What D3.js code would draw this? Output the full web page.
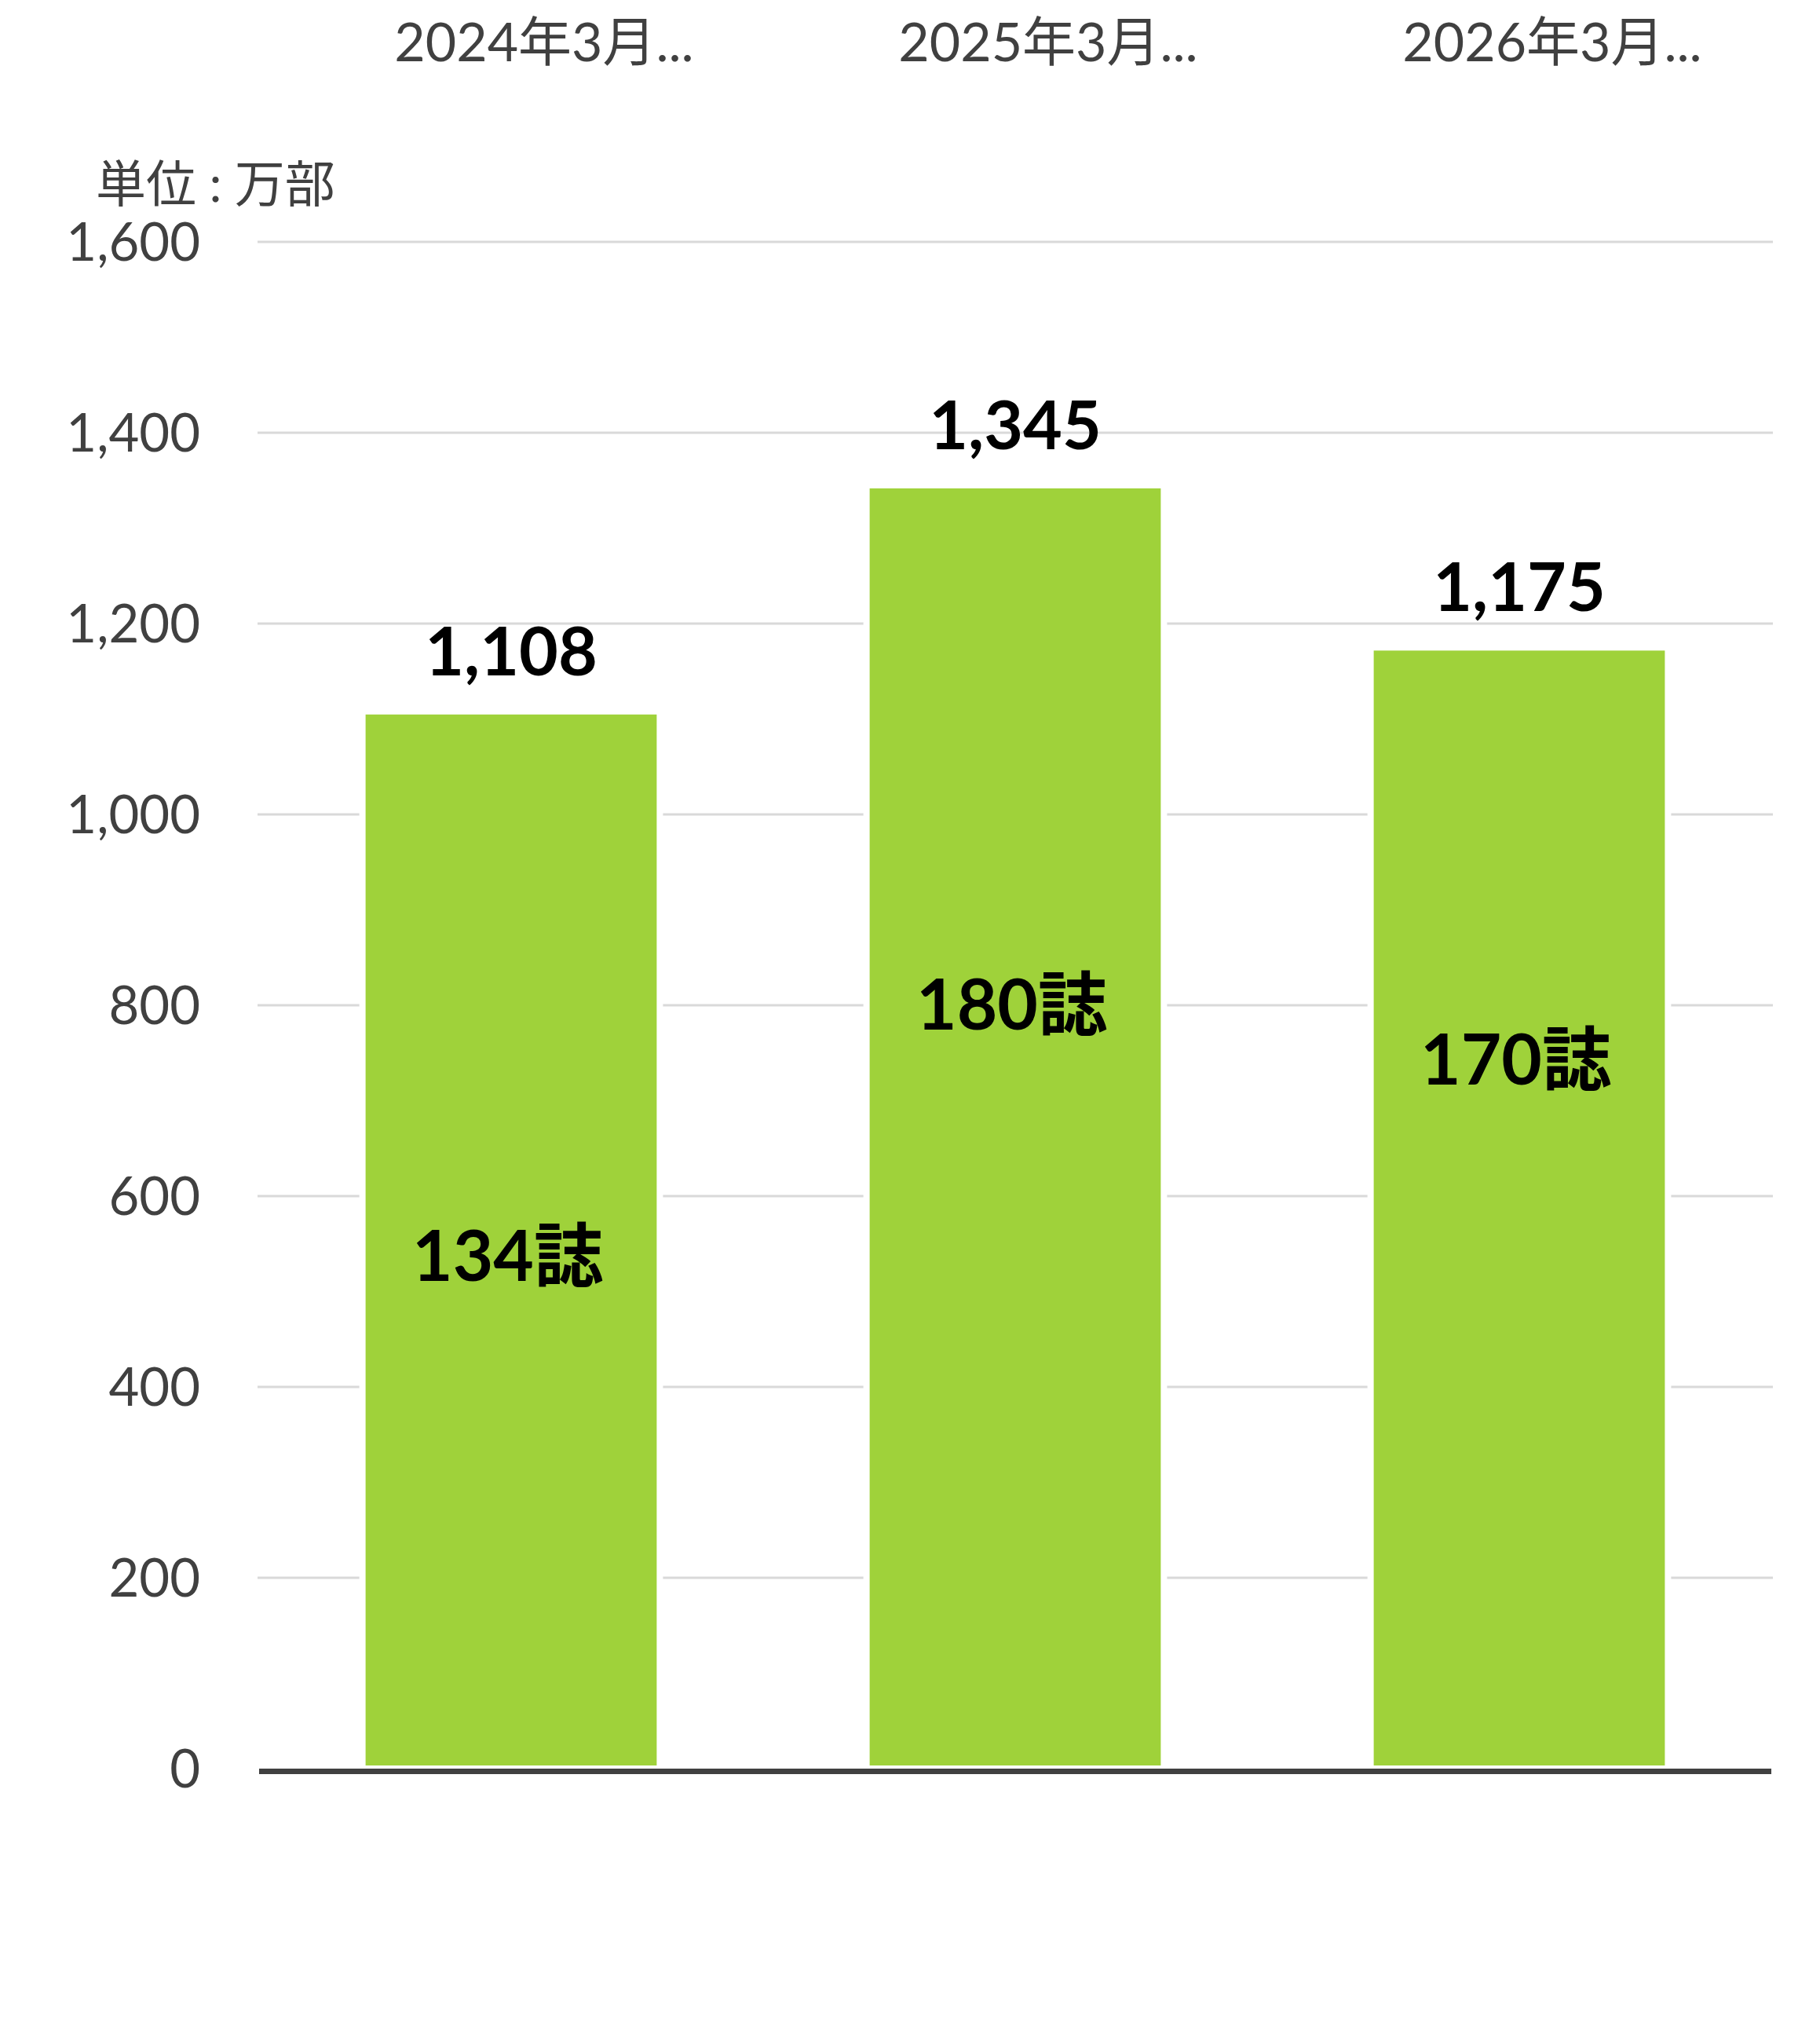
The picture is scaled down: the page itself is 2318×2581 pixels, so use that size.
<!DOCTYPE html>
<html>
<head>
<meta charset="utf-8">
<script src="https://cdn.jsdelivr.net/npm/d3@7"></script>
<style>
  body { margin: 0; background: #fff; }
  text { font-family: Lato, "Noto Sans CJK JP", sans-serif; }
</style>
</head>
<body>
<div id="chart"></div>
<script>
// data
const categories = ["2024年3月...", "2025年3月...", "2026年3月..."];
const circulation = [1108, 1345, 1175];   // 万部
const magazines = [134, 180, 170];         // 誌
const yTicks = [0, 200, 400, 600, 800, 1000, 1200, 1400, 1600];
const unitLabel = "単位 : 万部";

const width = 2318, height = 2581;
const margin = { top: 308, right: 62, bottom: 329, left: 330 };

const svg = d3.select("#chart").append("svg")
  .attr("width", width)
  .attr("height", height);

const x = d3.scaleBand()
  .domain(categories)
  .range([margin.left, width - margin.right])
  .paddingInner(0.41)
  .paddingOuter(0.205);

const y = d3.scaleLinear()
  .domain([0, 1600])
  .range([height - margin.bottom, margin.top]);

// hidden secondary scale for the magazine count labels
const y2 = d3.scaleLinear()
  .domain([40, 320])
  .range([height - margin.bottom, margin.top]);

// gridlines
svg.append("g")
  .selectAll("line")
  .data(yTicks.filter(d => d > 0))
  .enter()
  .append("line")
  .attr("x1", margin.left - 2)
  .attr("x2", width - margin.right + 2)
  .attr("y1", d => y(d))
  .attr("y2", d => y(d))
  .attr("stroke", "#d9d9d9")
  .attr("stroke-width", 3);

// y axis labels
const yAxis = d3.axisLeft(y)
  .tickValues(yTicks)
  .tickSize(0)
  .tickPadding(75)
  .tickFormat(d3.format(","));

svg.append("g")
  .attr("transform", `translate(${margin.left},0)`)
  .call(yAxis)
  .call(g => g.select(".domain").remove())
  .call(g => g.selectAll("text")
    .attr("fill", "#404040")
    .attr("font-size", 67)
    .attr("dy", "0.35em"));

// bars
svg.append("g")
  .selectAll("rect")
  .data(circulation)
  .enter()
  .append("rect")
  .attr("x", (d, i) => x(categories[i]))
  .attr("y", d => y(d))
  .attr("width", x.bandwidth())
  .attr("height", d => y(0) - y(d))
  .attr("fill", "#9fd23a")
  .attr("stroke", "#ffffff")
  .attr("stroke-width", 8);

// baseline
svg.append("line")
  .attr("x1", margin.left)
  .attr("x2", width - margin.right)
  .attr("y1", y(0) + 3.5)
  .attr("y2", y(0) + 3.5)
  .attr("stroke", "#404040")
  .attr("stroke-width", 7);

// value labels
svg.append("g")
  .selectAll("text")
  .data(circulation)
  .enter()
  .append("text")
  .attr("x", (d, i) => x(categories[i]) + x.bandwidth() / 2)
  .attr("y", d => y(d) - 46)
  .attr("text-anchor", "middle")
  .attr("font-size", 86)
  .attr("font-weight", "bold")
  .attr("fill", "#000")
  .text(d => d3.format(",")(d));

// magazine count labels
svg.append("g")
  .selectAll("text")
  .data(magazines)
  .enter()
  .append("text")
  .attr("x", (d, i) => x(categories[i]) + x.bandwidth() / 2 - 4)
  .attr("y", d => y2(d))
  .attr("dy", "0.35em")
  .attr("text-anchor", "middle")
  .attr("font-size", 89)
  .attr("font-weight", "bold")
  .attr("fill", "#000")
  .text(d => d + "誌");

// category labels (top)
svg.append("g")
  .selectAll("text")
  .data(categories)
  .enter()
  .append("text")
  .attr("x", d => x(d) + x.bandwidth() / 2 + 42)
  .attr("y", 78)
  .attr("text-anchor", "middle")
  .attr("font-size", 68)
  .attr("fill", "#404040")
  .text(d => d);

// unit label
svg.append("text")
  .attr("x", 122)
  .attr("y", 257)
  .attr("font-size", 64)
  .attr("fill", "#404040")
  .text(unitLabel);
</script>
</body>
</html>
